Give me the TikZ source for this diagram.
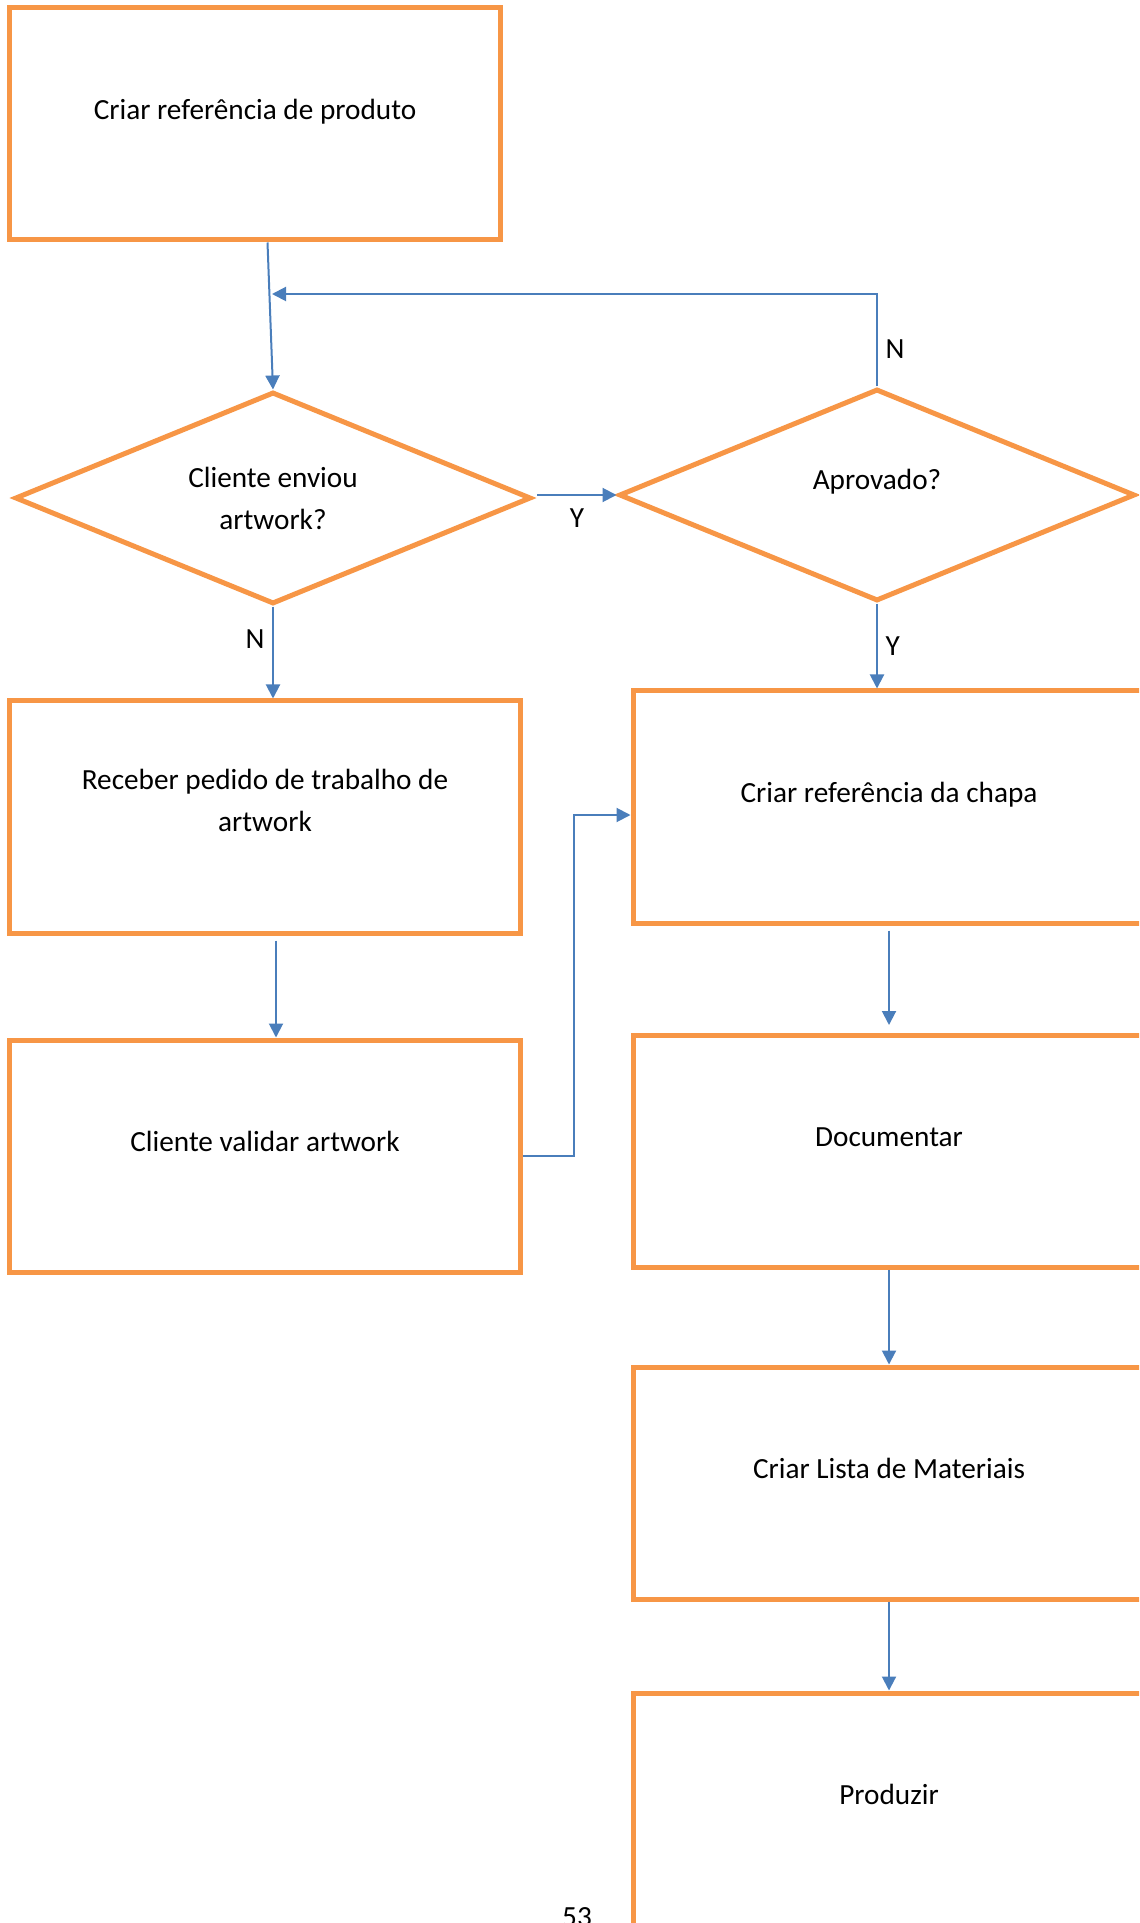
\documentclass[tikz,border=0pt]{standalone}
\usepackage{fontspec}
\setmainfont{Carlito}
\usetikzlibrary{shapes.geometric,arrows.meta}
\definecolor{boxorange}{HTML}{F79646}
\definecolor{lineblue}{HTML}{4A7EBB}

\begin{document}
\begin{tikzpicture}[x=0.4pt, y=-0.4pt,
                font=\fontsize{11.7pt}{16.8pt}\selectfont,
                stepbox/.style={rectangle, draw=boxorange, line width=2pt, minimum width=204pt, minimum height=92.8pt, align=center, text height=8pt, text depth=11.5pt},
                decision/.style={diamond, draw=boxorange, line width=2pt, minimum width=206.4pt, minimum height=84.8pt, shape aspect=2.4, inner sep=0pt, align=center},
                conn/.style={draw=lineblue, line width=0.8pt, -{Triangle[length=5.6pt, width=5.6pt]}},
                yn/.style={inner sep=3pt}]
                \clip (0,0) rectangle (1139,1923);
                \node[stepbox, minimum width=196pt] (prod) at (255,124) {Criar referência de produto};
                \node[decision] (env) at (273,498) {Cliente enviou\\artwork?};
                \node[decision, text height=8pt, text depth=12.6pt] (apr) at (877,495) {Aprovado?};
                \node[stepbox, text height=17.6pt, text depth=6.4pt] (rec) at (265,817) {Receber pedido de trabalho de\\artwork};
                \node[stepbox] (val) at (265,1156) {Cliente validar artwork};
                \node[stepbox, minimum width=204.8pt] (chapa) at (889,807) {Criar referência da chapa};
                \node[stepbox, minimum width=204.8pt] (doc) at (889,1151) {Documentar};
                \node[stepbox, minimum width=204.8pt] (lista) at (889,1483) {Criar Lista de Materiais};
                \node[stepbox, minimum width=204.8pt] (prodz) at (889,1809) {Produzir};
                \node[anchor=north, inner sep=0pt] (page) at (577,1907) {53};
                \coordinate (back) at (272,294);
                \draw[conn] ([xshift=5pt]prod.south) -- (env.north);
                \draw[conn] (apr.north) -- node[yn, right, pos=0.4] (no2) {N} (apr.north |- back) -- (back);
                \draw[conn] ([xshift=1.5pt]env.east |- apr.west) -- node[below, inner sep=5pt] (yes1) {Y} (apr.west);
                \draw[conn] (apr.south) -- node[yn, right] (yes2) {Y} (apr.south |- chapa.north);
                \draw[conn] (env.south) -- node[yn, left, pos=0.35] (no1) {N} (env.south |- rec.north);
                \draw[conn] ([xshift=4.4pt, yshift=-2pt]rec.south) -- ([xshift=4.4pt]val.north);
                \draw[conn] (val.east) -- ++(51,0) |- ([yshift=-3.2pt]chapa.west);
                \draw[conn] ([yshift=-2pt]chapa.south) -- ([yshift=3pt]chapa.south |- doc.north);
                \draw[conn] (doc.south) -- (doc.south |- lista.north);
                \draw[conn] (lista.south) -- (lista.south |- prodz.north);
            \end{tikzpicture}
\end{document}
